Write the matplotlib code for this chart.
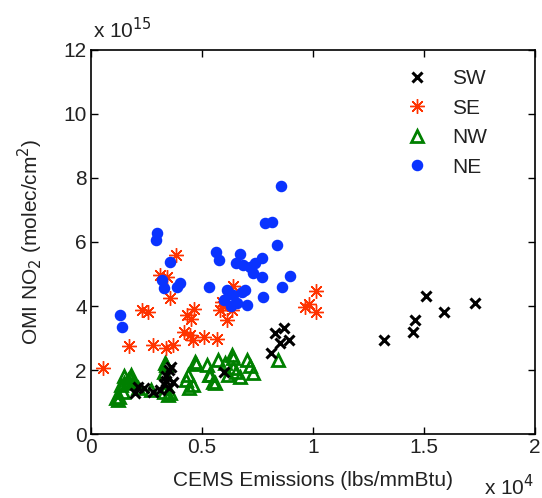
import matplotlib
matplotlib.use("Agg")
import matplotlib.pyplot as plt
import numpy as np

plt.rcParams['font.family'] = ['Liberation Sans', 'DejaVu Sans']

# x in units of 1e4 lbs/mmBtu, y in units of 1e15 molec/cm2
sw_x = [0.20, 0.21, 0.24, 0.28, 0.31, 0.33, 0.34, 0.35, 0.36, 0.37, 0.35, 0.34,
        0.60, 0.81, 0.83, 0.85, 0.87, 0.89, 1.32, 1.45, 1.46, 1.51, 1.59, 1.73]
sw_y = [1.27, 1.48, 1.43, 1.32, 1.38, 1.55, 1.80, 2.00, 2.08, 1.63, 1.45, 1.65,
        1.95, 2.54, 3.15, 2.83, 3.30, 2.94, 2.94, 3.20, 3.56, 4.31, 3.82, 4.08]

se_x = [0.056, 0.171, 0.281, 0.338, 0.371, 0.228, 0.258, 0.311, 0.344, 0.356,
        0.383, 0.420, 0.431, 0.450, 0.465, 0.446, 0.460, 0.509, 0.566, 0.581,
        0.596, 0.611, 0.590, 0.634, 0.638, 0.964, 0.980, 1.014, 1.014]
se_y = [2.07, 2.75, 2.78, 2.68, 2.78, 3.87, 3.82, 4.97, 4.92, 4.24,
        5.59, 3.20, 3.72, 3.58, 3.90, 3.09, 2.94, 3.04, 2.96, 3.87,
        4.00, 3.56, 4.13, 3.87, 4.62, 3.98, 4.05, 3.82, 4.48]

nw_x = [0.113, 0.123, 0.128, 0.143, 0.150, 0.165, 0.135, 0.188, 0.180, 0.150,
        0.176, 0.210, 0.270, 0.330, 0.345, 0.356, 0.333, 0.338, 0.330,
        0.428, 0.435, 0.458, 0.440, 0.468, 0.475,
        0.521, 0.533, 0.536, 0.551, 0.559, 0.574, 0.604, 0.618, 0.634, 0.641,
        0.655, 0.671, 0.641, 0.701, 0.716, 0.731, 0.844]
nw_y = [1.11, 1.06, 1.15, 1.32, 1.58, 1.69, 1.53, 1.63, 1.84, 1.80,
        1.74, 1.43, 1.38, 1.30, 1.22, 1.27, 2.21, 2.16, 1.95,
        1.69, 1.84, 1.53, 1.45, 2.26, 2.20,
        2.16, 1.84, 1.84, 1.63, 1.58, 2.31, 2.21, 1.84, 2.47, 2.05,
        1.95, 1.79, 2.36, 2.31, 2.14, 1.90, 2.31]

ne_x = [0.131, 0.138, 0.297, 0.293, 0.356, 0.318, 0.327, 0.402, 0.387, 0.533,
        0.563, 0.578, 0.671, 0.653, 0.686, 0.716, 0.739, 0.769, 0.731, 0.769,
        0.856, 0.784, 0.814, 0.836, 0.896, 0.859, 0.776, 0.611, 0.641, 0.600,
        0.656, 0.701, 0.630, 0.694, 0.679]
ne_y = [3.72, 3.35, 6.27, 6.06, 5.39, 4.81, 4.55, 4.71, 4.58, 4.58,
        5.70, 5.44, 5.63, 5.33, 5.28, 5.23, 5.33, 5.49, 5.02, 4.90,
        7.75, 6.58, 6.61, 5.91, 4.94, 4.60, 4.29, 4.50, 4.34, 4.20,
        4.08, 4.03, 4.00, 4.50, 4.45]

labels = ['SW', 'SE', 'NW', 'NE']
x_ticks = [0, 0.5, 1, 1.5, 2]
y_ticks = [0, 2, 4, 6, 8, 10, 12]

fig = plt.figure(figsize=(5.42, 4.98), dpi=100)
ax = fig.add_axes([91/542, 1-434/498, (535-91)/542, (434-50)/498])

ax.plot(nw_x, nw_y, linestyle='none', marker='^', markersize=8, markerfacecolor='none',
        markeredgecolor='#008000', markeredgewidth=2, label=labels[2])
ax.plot(se_x, se_y, linestyle='none', marker=(8, 2, 0), markersize=10.5,
        markeredgecolor='#ff3300', color='#ff3300', markeredgewidth=1.0, label=labels[1])
ax.plot(ne_x, ne_y, linestyle='none', marker='o', markersize=7.3,
        color='#0a33ff', markeredgecolor='#0a33ff', label=labels[3])
ax.plot(sw_x, sw_y, linestyle='none', marker='x', markersize=6.5,
        color='black', markeredgewidth=2.2, label=labels[0])

ax.set_xlim(0, 2)
ax.set_ylim(0, 12)
ax.set_xticks(x_ticks)
ax.set_xticklabels(['0', '0.5', '1', '1.5', '2'])
ax.set_yticks(y_ticks)
ax.set_yticklabels([str(v) for v in y_ticks])
ax.tick_params(direction='in', top=True, right=True, length=5, width=1,
               labelsize=15, labelcolor='#222222', pad=3)
for s in ax.spines.values():
    s.set_linewidth(1.2)

ax.set_xlabel('CEMS Emissions (lbs/mmBtu)', fontsize=15, color='#222222', labelpad=10)
ax.set_ylabel('OMI NO$_2$ (molec/cm$^2$)', fontsize=15, color='#222222', labelpad=13)

fig.text(93/542, 1-38/498, r'x 10$^{15}$', fontsize=15, color='#222222', ha='left', va='baseline')
fig.text(484/542, 1-495/498, r'x 10$^{4}$', fontsize=15, color='#222222', ha='left', va='baseline')

h, l = ax.get_legend_handles_labels()
order = [l.index(k) for k in labels]
leg = ax.legend([h[i] for i in order], [l[i] for i in order], loc='upper left',
                bbox_to_anchor=(398/542, 1-61/498), bbox_transform=fig.transFigure,
                borderaxespad=0, frameon=False, fontsize=15,
                handlelength=1.0, handletextpad=1.2, labelspacing=0.5,
                labelcolor='#222222')

fig.savefig('out.png', dpi=100)
